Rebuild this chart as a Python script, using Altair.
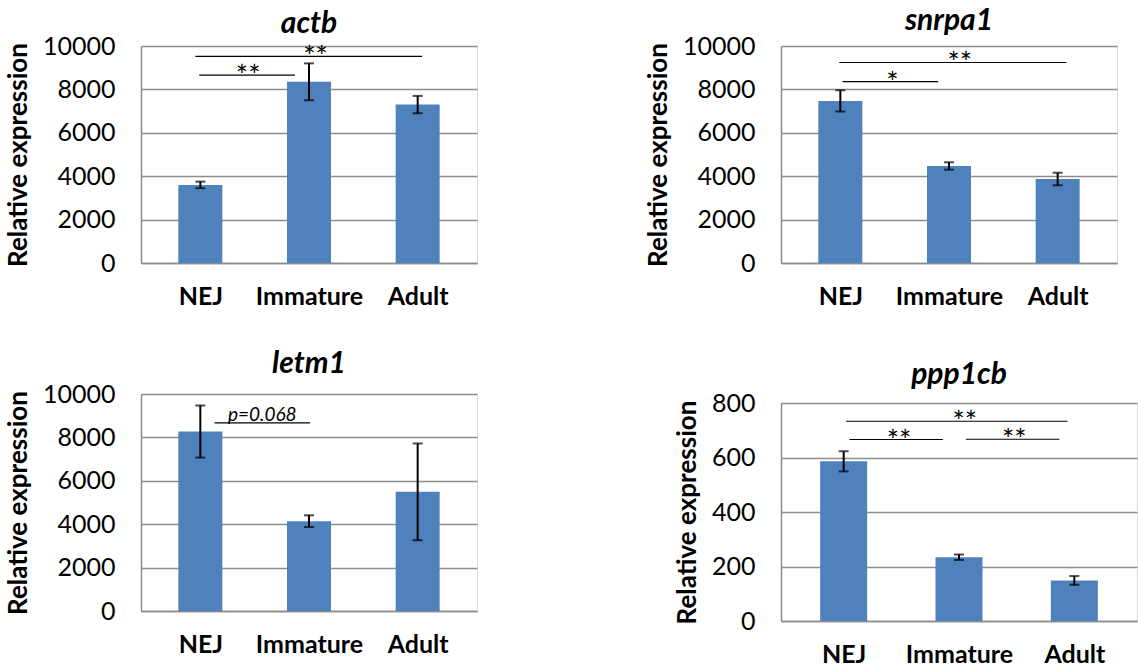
import altair as alt
import pandas as pd

FONT = "Lato"
BLUE = "#4F81BD"
GRID = "#8C8C8C"

categories = ["NEJ", "Immature", "Adult"]

# gene panels: mean relative expression and error (+/-)
actb_mean = [3600, 8350, 7300]
actb_err = [150, 850, 400]
snrpa1_mean = [7470, 4470, 3870]
snrpa1_err = [490, 170, 290]
letm1_mean = [8270, 4140, 5490]
letm1_err = [1200, 270, 2230]
ppp1cb_mean = [586, 234, 149]
ppp1cb_err = [37, 10, 16]

# significance brackets: (start, end in category units, height, label, label x)
actb_sig = [(-0.01, 0.87, 8660, "**", 0.44), (-0.045, 2.04, 9520, "**", 1.06)]
snrpa1_sig = [(0.02, 0.90, 8360, "*", 0.48), (-0.01, 2.08, 9240, "**", 1.10)]
letm1_sig = [(0.13, 1.01, 8670, "p=0.068", 0.57)]
ppp1cb_sig = [(0.02, 1.94, 733, "**", 1.05), (0.05, 0.86, 666, "**", 0.48),
              (1.06, 1.87, 667, "**", 1.48)]


def panel(name, mean, err, sig, ymax, ystep, width, height, bar_size,
          extent, tpad, title_off, title_dy):
    pos = list(range(len(categories)))
    df = pd.DataFrame({
        "pos": pos,
        "cat": categories,
        "mean": mean,
        "lo": [m - e for m, e in zip(mean, err)],
        "hi": [m + e for m, e in zip(mean, err)],
    })
    sdf = pd.DataFrame(sig, columns=["x1", "x2", "yv", "label", "lx"])
    sdf["star"] = sdf["label"].str.startswith("*")

    xs = alt.Scale(domain=[-0.5, len(categories) - 0.5], nice=False, zero=False)
    ys = alt.Scale(domain=[0, ymax], nice=False)
    label_expr = "[" + ",".join("'%s'" % c for c in categories) + "][datum.value]"
    xaxis = alt.Axis(values=pos, labelExpr=label_expr, title=None, grid=False,
                     ticks=False, domainColor=GRID, domainWidth=1.5,
                     labelFont=FONT, labelFontWeight="bold", labelFontSize=25,
                     labelColor="black", labelPadding=21, labelFlush=False)
    yaxis = alt.Axis(values=list(range(0, ymax + 1, ystep)), format="d",
                     title="Relative expression", grid=True, gridColor=GRID,
                     gridWidth=1.5, ticks=False, domainColor=GRID, domainWidth=1.5,
                     labelFont=FONT, labelFontSize=25, labelColor="black",
                     labelPadding=26, titleFont=FONT, titleFontSize=26,
                     titleFontWeight="bold", titleColor="black",
                     titlePadding=tpad, minExtent=extent, maxExtent=extent)

    def X(f):
        return alt.X(f, type="quantitative", scale=xs, axis=xaxis, title=None)

    def Y(f):
        return alt.Y(f, type="quantitative", scale=ys, axis=yaxis,
                     title="Relative expression")

    base = alt.Chart(df)
    bars = base.mark_bar(size=bar_size, color=BLUE).encode(x=X("pos"), y=Y("mean"))
    whisk = base.mark_rule(color="black", strokeWidth=2).encode(
        x=X("pos"), y=Y("lo"), y2="hi")
    cap_lo = base.mark_tick(orient="horizontal", size=10, thickness=2,
                            color="black").encode(x=X("pos"), y=Y("lo"))
    cap_hi = base.mark_tick(orient="horizontal", size=10, thickness=2,
                            color="black").encode(x=X("pos"), y=Y("hi"))
    sbase = alt.Chart(sdf)
    slines = sbase.mark_rule(color="black", strokeWidth=1.2).encode(
        x=X("x1"), x2="x2", y=Y("yv"))
    stars = sbase.transform_filter("datum.star").mark_text(
        font=FONT, fontSize=29, baseline="alphabetic",
        dy=11, color="black").encode(x=X("lx"), y=Y("yv"), text="label:N")
    ptext = sbase.transform_filter("!datum.star").mark_text(
        font=FONT, fontSize=19, fontStyle="italic", baseline="alphabetic",
        dy=-2, color="black").encode(x=X("lx"), y=Y("yv"), text="label:N")

    return alt.layer(bars, whisk, cap_lo, cap_hi, slines, stars, ptext).properties(
        width=width, height=height,
        title=alt.TitleParams(name, font=FONT, fontSize=30, fontStyle="italic",
                              fontWeight="bold", color="black", frame="group",
                              baseline="alphabetic", offset=title_off,
                              dy=title_dy, anchor="middle"),
    )


p1 = panel("actb", actb_mean, actb_err, actb_sig, 10000, 2000, 336, 217, 44, 94, 16, 14, 43)
p2 = panel("snrpa1", snrpa1_mean, snrpa1_err, snrpa1_sig, 10000, 2000, 336, 217, 44, 94, 16, 15, 41)
p3 = panel("letm1", letm1_mean, letm1_err, letm1_sig, 10000, 2000, 336, 217, 44, 94, 16, 18, 39)
p4 = panel("ppp1cb", ppp1cb_mean, ppp1cb_err, ppp1cb_sig, 800, 200, 356, 218, 47, 68, 13, 17, 40)

col1 = alt.vconcat(p1, p3, spacing=131, bounds="flush")
col2 = alt.vconcat(p2, p4, spacing=140, bounds="flush")

chart = alt.hconcat(col1, col2, spacing=166).properties(
    padding={"left": 4, "top": 5, "right": 0, "bottom": 0}
).configure_view(strokeWidth=0).configure(background="white")

chart.save("out.html", embed_options={"renderer": "svg", "actions": False})
